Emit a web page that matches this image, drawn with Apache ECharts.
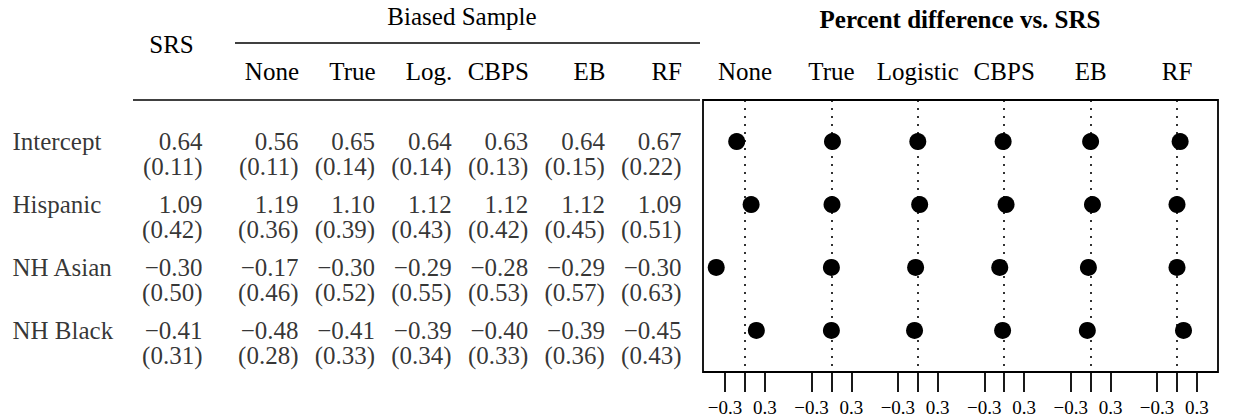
<!DOCTYPE html>
<html><head><meta charset="utf-8">
<script src="https://cdn.jsdelivr.net/npm/echarts@6/dist/echarts.min.js"></script>
<style>html,body{margin:0;padding:0;background:#fff}#c{width:1238px;height:419px}</style>
</head><body><div id="c"></div>
<script>
// ---------- data ----------
const rowNames = ['Intercept', 'Hispanic', 'NH Asian', 'NH Black'];
const tableColumns = ['None', 'True', 'Log.', 'CBPS', 'EB', 'RF'];
const panelNames = ['None', 'True', 'Logistic', 'CBPS', 'EB', 'RF'];

const srsEst = [0.64, 1.09, -0.30, -0.41];
const srsSE  = [0.11, 0.42, 0.50, 0.31];

const estNone = [0.56, 1.19, -0.17, -0.48];
const seNone  = [0.11, 0.36, 0.46, 0.28];
const estTrue = [0.65, 1.10, -0.30, -0.41];
const seTrue  = [0.14, 0.39, 0.52, 0.33];
const estLog  = [0.64, 1.12, -0.29, -0.39];
const seLog   = [0.14, 0.43, 0.55, 0.34];
const estCBPS = [0.63, 1.12, -0.28, -0.40];
const seCBPS  = [0.13, 0.42, 0.53, 0.33];
const estEB   = [0.64, 1.12, -0.29, -0.39];
const seEB    = [0.15, 0.45, 0.57, 0.36];
const estRF   = [0.67, 1.09, -0.30, -0.45];
const seRF    = [0.22, 0.51, 0.63, 0.43];

// percent difference vs. SRS (dot positions)
const pctNone = [-0.125, 0.092, -0.433, 0.171];
const pctTrue = [0.016, 0.009, 0.000, 0.000];
const pctLog  = [0.000, 0.028, -0.033, -0.049];
const pctCBPS = [-0.016, 0.028, -0.067, -0.024];
const pctEB   = [0.000, 0.028, -0.033, -0.049];
const pctRF   = [0.047, 0.000, 0.000, 0.098];

const tickValues = [-0.3, 0, 0.3];
const tickLabelValues = [-0.3, 0.3];

// ---------- build ----------
const estCols = [estNone, estTrue, estLog, estCBPS, estEB, estRF];
const seCols  = [seNone, seTrue, seLog, seCBPS, seEB, seRF];
const pctCols = [pctNone, pctTrue, pctLog, pctCBPS, pctEB, pctRF];

const FONT = '"Liberation Serif", "Times New Roman", serif';
const FS = 25;
const fmt = v => (v < 0 ? '\u2212' : '') + Math.abs(v).toFixed(2);
const fmtTick = v => (v < 0 ? '\u2212' : '') + Math.abs(v).toFixed(1);

const Y_MIN = 0.34, Y_MAX = 4.66, TOP = 100, HEIGHT = 272;
const SE_DROP = 25; // second text line of each cell sits this far below the first

const grid = [], xAxis = [], yAxis = [], series = [];

function addGrid(g) { grid.push(Object.assign({ top: TOP, height: HEIGHT, containLabel: false }, g)); return grid.length - 1; }
function hiddenY(gi) { yAxis.push({ gridIndex: gi, type: 'value', min: Y_MIN, max: Y_MAX, inverse: true, show: false }); return yAxis.length - 1; }

function textSeries(xi, yi, data, labelOpts) {
  series.push({
    type: 'scatter', xAxisIndex: xi, yAxisIndex: yi, symbolSize: 1,
    itemStyle: { color: 'rgba(0,0,0,0)' }, silent: true, data,
    label: Object.assign({ show: true, distance: 0, fontFamily: FONT, fontSize: FS, color: '#000',
                           lineHeight: SE_DROP, formatter: p => p.data[2] }, labelOpts)
  });
}

// row names
{
  const gi = addGrid({ left: 12, width: 100 });
  xAxis.push({ gridIndex: gi, type: 'value', min: 0, max: 1, show: false });
  const xi = xAxis.length - 1, yi = hiddenY(gi);
  textSeries(xi, yi, rowNames.map((n, r) => [0, r + 1, n]), { position: 'right' });
}
// SRS column
{
  const gi = addGrid({ left: 103, width: 100 });
  xAxis.push({ gridIndex: gi, type: 'value', min: 0, max: 1, show: false });
  const xi = xAxis.length - 1, yi = hiddenY(gi);
  textSeries(xi, yi, srsEst.map((v, r) => [1, r + 1, fmt(v)]), { position: 'left', align: 'right' });
  textSeries(xi, yi, srsSE.map((v, r) => [1, r + 1, '(' + v.toFixed(2) + ')']),
             { position: 'left', align: 'right', offset: [0, SE_DROP] });
}
// biased sample columns
{
  const pitch = 76.6;
  const gi = addGrid({ left: 299 - pitch, width: pitch * 7 });
  xAxis.push({ gridIndex: gi, type: 'value', min: 0, max: 7, show: false });
  const xi = xAxis.length - 1;
  xAxis.push({ gridIndex: gi, type: 'value', min: 0, max: 7, position: 'top',
    axisLine: { show: false }, axisTick: { show: false }, splitLine: { show: false },
    axisLabel: { customValues: [1, 2, 3, 4, 5, 6], formatter: v => tableColumns[Math.round(v) - 1],
                 align: 'right', margin: 16, fontFamily: FONT, fontSize: FS, color: '#000' } });
  const yi = hiddenY(gi);
  const estData = [], seData = [];
  estCols.forEach((col, k) => col.forEach((v, r) => {
    estData.push([k + 1, r + 1, fmt(v)]);
    seData.push([k + 1, r + 1, '(' + seCols[k][r].toFixed(2) + ')']);
  }));
  textSeries(xi, yi, estData, { position: 'left', align: 'right' });
  textSeries(xi, yi, seData, { position: 'left', align: 'right', offset: [0, SE_DROP] });
}
// frame
{
  const gi = addGrid({ left: 703, width: 515, show: true, borderColor: '#000', borderWidth: 1.8, backgroundColor: 'rgba(0,0,0,0)' });
  xAxis.push({ gridIndex: gi, type: 'value', min: 0, max: 1, show: false });
  hiddenY(gi);
}
// panels
const PW = 86.4, P0 = 745 - PW / 2;
panelNames.forEach((name, i) => {
  const gi = addGrid({ left: P0 + PW * i, width: PW });
  xAxis.push({ gridIndex: gi, type: 'value', min: -0.65, max: 0.65, position: 'bottom',
    axisLine: { show: false }, splitLine: { show: false },
    axisTick: { show: true, customValues: tickValues, length: 20, lineStyle: { color: '#000', width: 1.8 } },
    axisLabel: { customValues: tickLabelValues, formatter: v => fmtTick(v), margin: 26,
                 fontFamily: FONT, fontSize: 19, color: '#000' } });
  const xi = xAxis.length - 1;
  xAxis.push({ gridIndex: gi, type: 'value', min: -0.65, max: 0.65, position: 'top',
    axisLine: { show: false }, axisTick: { show: false }, splitLine: { show: false },
    axisLabel: { customValues: [0], formatter: () => name, margin: 16,
                 fontFamily: FONT, fontSize: FS, color: '#000' } });
  const yi = hiddenY(gi);
  series.push({
    type: 'scatter', xAxisIndex: xi, yAxisIndex: yi, symbol: 'circle', symbolSize: 17,
    itemStyle: { color: '#000', opacity: 1 }, silent: true,
    data: pctCols[i].map((v, r) => [v, r + 1]),
    markLine: { silent: true, symbol: ['none', 'none'], label: { show: false },
      lineStyle: { type: [2, 6], color: '#000', width: 1.6, opacity: 1 }, data: [{ xAxis: 0 }] }
  });
});

const txt = (text, x, y, font) => ({ type: 'text', x, y, silent: true,
  style: { text, font, fill: '#000', align: 'center', verticalAlign: 'middle', textAlign: 'center', textVerticalAlign: 'middle' } });
const rule = (x1, x2, y) => ({ type: 'line', silent: true, shape: { x1, y1: y, x2, y2: y }, style: { stroke: '#000', lineWidth: 1.5 } });

const option = {
  animation: false,
  backgroundColor: '#fff',
  grid, xAxis, yAxis, series,
  graphic: [
    txt('Biased Sample', 462, 16, FS + 'px ' + FONT),
    txt('SRS', 171.5, 44, FS + 'px ' + FONT),
    txt('Percent difference vs. SRS', 960, 19, 'bold ' + FS + 'px ' + FONT),
    rule(235, 700, 43),
    rule(133, 700, 100)
  ]
};
const chart = echarts.init(document.getElementById('c'), null, { renderer: 'svg' });
chart.setOption(option);
</script></body></html>
